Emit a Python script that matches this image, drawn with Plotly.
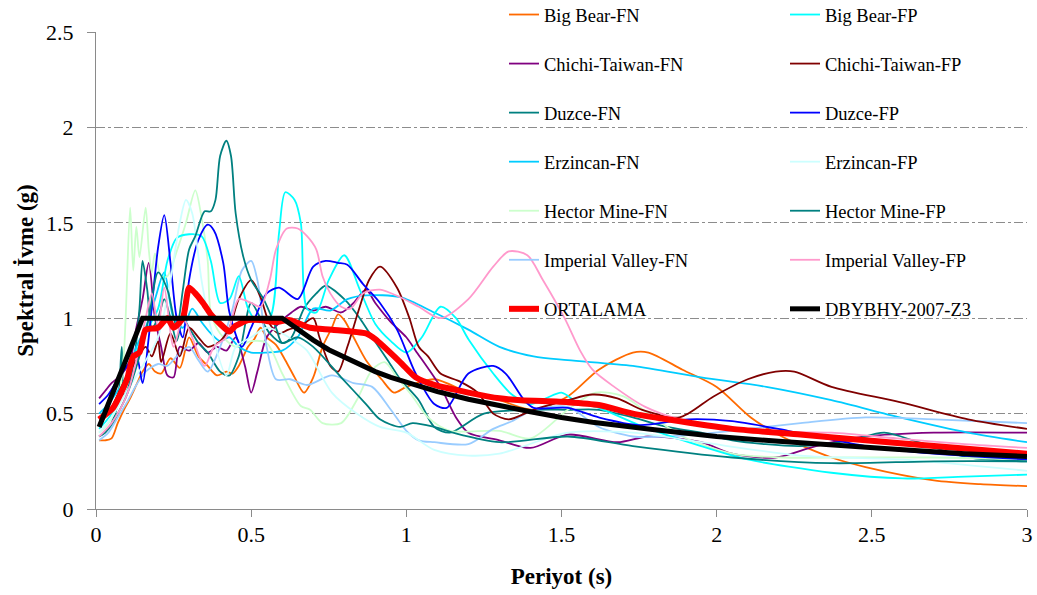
import plotly.graph_objects as go

# ---------------- data ----------------
T_BIGBEAR_FN = [0.01,0.03,0.05,0.07,0.09,0.11,0.13,0.15,0.17,0.19,0.21,0.24,0.27,0.3,0.33,0.36,0.39,0.42,0.44,0.46,0.49,0.51,0.53,0.55,0.58,0.61,0.64,0.67,0.70,0.73,0.76,0.78,0.80,0.83,0.87,0.92,0.96,1.0,1.09,1.2,1.3,1.41,1.52,1.62,1.73,1.78,1.89,2.0,2.11,2.21,2.37,2.48,2.7,2.85,3.0]
SA_BIGBEAR_FN = [0.36,0.36,0.37,0.45,0.52,0.58,0.65,0.72,0.76,0.72,0.71,0.79,0.74,0.9,0.8,0.75,0.70,0.72,0.71,0.75,0.85,0.89,0.95,0.9,0.86,0.78,0.69,0.61,0.69,0.85,0.95,1.02,0.99,0.9,0.78,0.68,0.61,0.64,0.68,0.61,0.57,0.52,0.59,0.73,0.82,0.82,0.73,0.64,0.48,0.38,0.27,0.22,0.15,0.13,0.12]

T_BIGBEAR_FP = [0.01,0.05,0.1,0.15,0.2,0.23,0.26,0.3,0.34,0.37,0.4,0.43,0.46,0.49,0.52,0.56,0.59,0.61,0.64,0.66,0.68,0.71,0.75,0.8,0.85,0.9,0.95,1.0,1.05,1.11,1.16,1.2,1.28,1.34,1.4,1.45,1.5,1.55,1.62,1.75,1.95,2.1,2.37,2.6,2.8,3.0]
SA_BIGBEAR_FP = [0.42,0.5,0.7,0.9,1.05,1.3,1.42,1.44,1.43,1.3,1.08,1.1,1.22,1.05,0.98,1.0,1.45,1.66,1.62,1.5,1.05,1.03,1.2,1.33,1.15,0.97,0.88,0.82,0.9,1.06,1.0,0.89,0.71,0.6,0.55,0.58,0.61,0.56,0.53,0.44,0.33,0.26,0.19,0.16,0.17,0.18]

T_CHICHI_FN = [0.01,0.03,0.05,0.08,0.11,0.13,0.15,0.17,0.19,0.21,0.23,0.25,0.27,0.3,0.33,0.36,0.39,0.42,0.45,0.48,0.5,0.52,0.55,0.6,0.63,0.66,0.7,0.74,0.79,0.83,0.87,0.9,0.95,1.0,1.03,1.11,1.16,1.2,1.3,1.4,1.52,1.68,1.78,1.95,2.05,2.19,2.32,2.48,2.7,3.0]
SA_CHICHI_FN = [0.58,0.62,0.66,0.7,0.78,0.95,1.1,1.29,1.0,0.85,0.7,0.69,0.85,0.83,0.87,0.82,0.85,0.83,0.9,0.75,0.61,0.72,0.9,0.99,1.03,1.06,1.04,1.06,1.03,1.08,1.15,1.08,0.98,0.9,0.83,0.64,0.48,0.40,0.36,0.32,0.39,0.35,0.38,0.35,0.29,0.27,0.33,0.38,0.40,0.40]

T_CHICHI_FP = [0.01,0.04,0.07,0.1,0.13,0.16,0.18,0.2,0.21,0.24,0.27,0.3,0.33,0.36,0.4,0.43,0.46,0.5,0.53,0.56,0.59,0.62,0.66,0.70,0.72,0.755,0.78,0.81,0.85,0.88,0.915,0.97,1.01,1.04,1.07,1.11,1.17,1.23,1.28,1.33,1.41,1.52,1.6,1.68,1.76,1.88,1.99,2.1,2.19,2.25,2.37,2.59,2.81,3.0]
SA_CHICHI_FP = [0.45,0.5,0.6,0.7,0.78,0.85,0.8,0.88,0.77,0.92,0.8,0.95,0.9,0.85,0.88,0.95,1.1,1.2,1.11,0.97,0.92,0.94,0.96,1.0,0.9,0.75,0.72,0.85,1.06,1.2,1.27,1.16,1.0,0.85,0.8,0.71,0.67,0.61,0.5,0.47,0.52,0.57,0.6,0.58,0.52,0.48,0.59,0.68,0.72,0.72,0.64,0.56,0.47,0.42]

T_DUZCE_FN = [0.01,0.03,0.05,0.07,0.083,0.09,0.1,0.12,0.14,0.15,0.165,0.18,0.2,0.22,0.24,0.26,0.28,0.3,0.33,0.36,0.4,0.43,0.46,0.5,0.53,0.56,0.6,0.63,0.67,0.71,0.74,0.8,0.85,0.89,0.94,0.98,1.04,1.09,1.14,1.25,1.41,1.52,1.62,1.73,1.84,1.95,2.05,2.27,2.43,2.54,2.65,2.81,3.0]
SA_DUZCE_FN = [0.38,0.4,0.45,0.55,0.85,0.6,0.62,0.75,1.05,1.3,1.15,0.95,1.0,1.1,1.0,0.88,1.0,0.95,0.87,0.82,0.72,0.7,0.8,1.08,1.0,0.92,0.87,0.9,1.05,1.13,1.17,1.1,1.0,0.9,0.78,0.68,0.57,0.43,0.40,0.5,0.52,0.52,0.52,0.48,0.43,0.40,0.36,0.33,0.36,0.40,0.35,0.27,0.25]

T_DUZCE_FP = [0.01,0.04,0.07,0.1,0.13,0.15,0.17,0.2,0.22,0.24,0.26,0.28,0.3,0.33,0.36,0.38,0.41,0.43,0.47,0.5,0.55,0.59,0.65,0.7,0.74,0.78,0.81,0.86,0.915,0.97,1.03,1.09,1.13,1.2,1.28,1.32,1.38,1.41,1.52,1.62,1.75,1.91,2.05,2.23,2.48,2.7,3.0]
SA_DUZCE_FP = [0.55,0.6,0.68,0.75,0.8,0.66,0.9,1.37,1.54,1.29,1.0,0.9,1.2,1.41,1.49,1.46,1.29,1.03,0.85,0.95,1.13,1.16,1.1,1.27,1.3,1.29,1.28,1.18,1.08,0.94,0.71,0.55,0.53,0.71,0.75,0.71,0.57,0.53,0.53,0.48,0.44,0.47,0.46,0.41,0.33,0.29,0.26]

T_ERZINCAN_FN = [0.01,0.04,0.07,0.1,0.13,0.16,0.19,0.22,0.25,0.28,0.31,0.34,0.37,0.4,0.43,0.46,0.5,0.55,0.6,0.65,0.7,0.755,0.81,0.87,0.98,1.09,1.2,1.3,1.41,1.52,1.73,1.95,2.16,2.37,2.59,2.81,3.0]
SA_ERZINCAN_FN = [0.5,0.55,0.62,0.7,0.85,0.95,1.1,1.24,1.0,0.95,1.05,0.98,0.92,0.88,0.9,0.85,0.82,0.82,0.83,0.9,1.05,1.04,1.1,1.12,1.11,1.03,0.94,0.85,0.80,0.78,0.75,0.69,0.64,0.57,0.48,0.40,0.35]

T_ERZINCAN_FP = [0.01,0.05,0.1,0.15,0.2,0.24,0.27,0.29,0.31,0.34,0.37,0.42,0.45,0.5,0.55,0.6,0.64,0.68,0.76,0.84,0.915,1.0,1.09,1.2,1.3,1.52,1.73,1.95,2.27,2.59,3.0]
SA_ERZINCAN_FP = [0.4,0.48,0.62,0.75,0.9,1.2,1.5,1.62,1.55,1.2,0.95,0.7,0.85,0.9,0.95,0.92,0.88,0.83,0.61,0.5,0.43,0.40,0.31,0.28,0.29,0.40,0.40,0.35,0.28,0.26,0.20]

T_HECTOR_FN = [0.01,0.04,0.07,0.09,0.11,0.12,0.13,0.14,0.16,0.17,0.18,0.19,0.21,0.23,0.26,0.29,0.32,0.34,0.36,0.37,0.4,0.45,0.5,0.55,0.6,0.66,0.69,0.73,0.79,0.84,0.89,0.93,0.97,1.02,1.07,1.14,1.3,1.4,1.52,1.61,1.7,1.78,1.89,2.05,2.21,2.42,2.7,3.0]
SA_HECTOR_FN = [0.4,0.45,0.55,0.82,1.58,1.25,1.48,1.32,1.58,1.36,1.24,1.34,1.22,1.22,1.35,1.5,1.67,1.53,1.3,1.03,0.92,0.85,0.88,0.87,0.71,0.54,0.52,0.45,0.45,0.57,0.73,0.77,0.69,0.59,0.48,0.41,0.41,0.37,0.52,0.61,0.59,0.5,0.38,0.29,0.27,0.27,0.27,0.26]

T_HECTOR_FP = [0.01,0.04,0.07,0.1,0.14,0.17,0.2,0.23,0.26,0.28,0.3,0.32,0.35,0.37,0.385,0.4,0.42,0.435,0.45,0.475,0.5,0.54,0.58,0.6,0.65,0.7,0.79,0.87,0.915,0.98,1.02,1.09,1.15,1.3,1.52,1.73,2.05,2.37,2.7,3.0]
SA_HECTOR_FP = [0.38,0.42,0.5,0.6,0.8,1.0,1.24,1.15,0.95,1.15,1.36,1.43,1.56,1.56,1.62,1.85,1.93,1.85,1.55,1.32,1.2,1.1,0.95,0.87,0.9,0.85,0.69,0.55,0.47,0.43,0.45,0.43,0.40,0.35,0.38,0.33,0.27,0.24,0.25,0.25]

T_IMPERIAL_FN = [0.01,0.04,0.07,0.1,0.13,0.16,0.2,0.23,0.26,0.3,0.33,0.36,0.4,0.44,0.47,0.5,0.52,0.55,0.58,0.625,0.68,0.76,0.83,0.89,0.95,1.0,1.04,1.09,1.2,1.28,1.34,1.41,1.52,1.62,1.73,1.84,2.05,2.27,2.48,2.7,3.0]
SA_IMPERIAL_FN = [0.36,0.4,0.48,0.56,0.65,0.72,0.76,0.75,0.8,0.85,0.78,0.72,0.85,1.05,1.25,1.30,1.2,0.85,0.68,0.68,0.65,0.70,0.66,0.64,0.52,0.41,0.36,0.35,0.34,0.42,0.46,0.52,0.535,0.43,0.38,0.38,0.41,0.45,0.48,0.47,0.45]

T_IMPERIAL_FP = [0.01,0.05,0.1,0.14,0.16,0.18,0.2,0.22,0.25,0.28,0.31,0.35,0.38,0.42,0.46,0.5,0.53,0.56,0.58,0.615,0.65,0.68,0.71,0.73,0.755,0.79,0.82,0.86,0.915,0.98,1.04,1.11,1.2,1.28,1.33,1.39,1.44,1.51,1.56,1.6,1.67,1.77,1.88,2.1,2.37,2.58,2.8,3.0]
SA_IMPERIAL_FP = [0.38,0.45,0.6,0.85,1.0,1.13,0.95,1.16,0.85,1.0,0.9,0.75,0.85,0.9,1.1,1.08,1.06,1.2,1.36,1.47,1.47,1.43,1.36,1.22,1.13,1.06,1.05,1.13,1.15,1.11,1.06,1.0,1.1,1.27,1.35,1.33,1.2,1.0,0.83,0.73,0.64,0.535,0.47,0.41,0.40,0.37,0.34,0.32]

T_ORTALAMA = [0.01,0.055,0.1,0.12,0.14,0.16,0.2,0.23,0.25,0.28,0.30,0.32,0.345,0.37,0.40,0.43,0.45,0.49,0.53,0.58,0.625,0.69,0.76,0.87,0.9,0.98,1.03,1.09,1.2,1.3,1.37,1.52,1.62,1.73,1.84,2.05,2.27,2.48,2.7,3.0]
SA_ORTALAMA = [0.47,0.53,0.68,0.8,0.82,0.94,0.95,1.0,0.95,1.0,1.16,1.13,1.08,1.02,0.97,0.93,0.96,0.99,0.99,0.98,0.99,0.95,0.94,0.92,0.89,0.77,0.69,0.65,0.61,0.58,0.57,0.56,0.545,0.50,0.47,0.42,0.39,0.36,0.33,0.29]

T_DBYBHY = [0.01,0.15,0.6,0.65,0.7,0.75,0.8,0.85,0.9,0.95,1.0,1.1,1.2,1.3,1.4,1.5,1.6,1.8,2.0,2.2,2.4,2.6,2.8,3.0]
SA_DBYBHY = [0.43,1.0,1.0,0.94,0.885,0.835,0.795,0.755,0.72,0.69,0.665,0.615,0.575,0.54,0.51,0.48,0.455,0.415,0.38,0.355,0.33,0.31,0.29,0.275]

X_TICKS = [0, 0.5, 1, 1.5, 2, 2.5, 3]
X_TICK_TEXT = ["0", "0.5", "1", "1.5", "2", "2.5", "3"]
Y_TICKS = [0, 0.5, 1, 1.5, 2, 2.5]
Y_TICK_TEXT = ["0", "0.5", "1", "1.5", "2", "2.5"]

# (name, T, Sa, colour, legend)
SERIES = [
    ("Big Bear-FN", T_BIGBEAR_FN, SA_BIGBEAR_FN, "#FF6A00", "legend"),
    ("Chichi-Taiwan-FN", T_CHICHI_FN, SA_CHICHI_FN, "#800080", "legend"),
    ("Duzce-FN", T_DUZCE_FN, SA_DUZCE_FN, "#008080", "legend"),
    ("Erzincan-FN", T_ERZINCAN_FN, SA_ERZINCAN_FN, "#00CCFF", "legend"),
    ("Hector Mine-FN", T_HECTOR_FN, SA_HECTOR_FN, "#CCFFCC", "legend"),
    ("Imperial Valley-FN", T_IMPERIAL_FN, SA_IMPERIAL_FN, "#99CCFF", "legend"),
    ("Big Bear-FP", T_BIGBEAR_FP, SA_BIGBEAR_FP, "#00FFFF", "legend2"),
    ("Chichi-Taiwan-FP", T_CHICHI_FP, SA_CHICHI_FP, "#800000", "legend2"),
    ("Duzce-FP", T_DUZCE_FP, SA_DUZCE_FP, "#0000FF", "legend2"),
    ("Erzincan-FP", T_ERZINCAN_FP, SA_ERZINCAN_FP, "#CCFFFF", "legend2"),
    ("Hector Mine-FP", T_HECTOR_FP, SA_HECTOR_FP, "#008080", "legend2"),
    ("Imperial Valley-FP", T_IMPERIAL_FP, SA_IMPERIAL_FP, "#FF99CC", "legend2"),
]

fig = go.Figure()
for name, t, sa, col, leg in SERIES:
    fig.add_trace(go.Scatter(
        x=t, y=sa, name=name, mode="lines",
        line=dict(color=col, width=1.8, shape="spline", smoothing=0.8),
        legend=leg, legendgroup=name,
    ))

fig.add_trace(go.Scatter(
    x=T_ORTALAMA, y=SA_ORTALAMA, name="ORTALAMA", mode="lines",
    line=dict(color="#FF0000", width=6, shape="spline", smoothing=0.6),
    legend="legend", legendgroup="ORTALAMA",
))
fig.add_trace(go.Scatter(
    x=T_DBYBHY, y=SA_DBYBHY, name="DBYBHY-2007-Z3", mode="lines",
    line=dict(color="#000000", width=5),
    legend="legend2", legendgroup="DBYBHY",
))

FONT = "Liberation Serif"
legend_common = dict(
    xref="paper", yref="paper", xanchor="left", yanchor="top",
    font=dict(family=FONT, size=18.5, color="black"),
    bgcolor="rgba(0,0,0,0)", tracegroupgap=22, traceorder="grouped",
    maxheight=560,
)

fig.update_layout(
    width=1037, height=595,
    margin=dict(l=96, r=10, t=32, b=86, autoexpand=False),
    plot_bgcolor="white", paper_bgcolor="white",
    font=dict(family=FONT, color="black"),
    xaxis=dict(
        range=[0, 3], tickvals=X_TICKS, ticktext=X_TICK_TEXT,
        showgrid=False, zeroline=False,
        showline=True, linecolor="#8A8A8A", linewidth=1,
        ticks="outside", ticklen=7, tickcolor="#8A8A8A",
        tickfont=dict(family=FONT, size=22, color="black"),
        ticklabelstandoff=-1, automargin=False,
        title=dict(text="<b>Periyot (s)</b>", font=dict(family=FONT, size=23, color="black"), standoff=21),
    ),
    yaxis=dict(
        range=[0, 2.5], tickvals=Y_TICKS, ticktext=Y_TICK_TEXT,
        showgrid=True, gridcolor="#8C8C8C", gridwidth=1, griddash="dashdot",
        zeroline=False,
        showline=True, linecolor="#8A8A8A", linewidth=1,
        ticks="outside", ticklen=8, tickcolor="#8C8C8C",
        tickfont=dict(family=FONT, size=22, color="black"),
        ticklabelstandoff=9, automargin=False,
        title=dict(text="<b>Spektral İvme (g)</b>", font=dict(family=FONT, size=23, color="black"), standoff=6),
    ),
    legend=dict(x=(497 + 7 - 96) / 931, y=(509 + 4) / 477, **legend_common),
    legend2=dict(x=(778 + 7 - 96) / 931, y=(509 + 4) / 477, **legend_common),
    showlegend=True,
)

fig.write_html(
    "out.html",
    config={"displayModeBar": False},
    post_script="document.body.style.margin='0px';",
)
